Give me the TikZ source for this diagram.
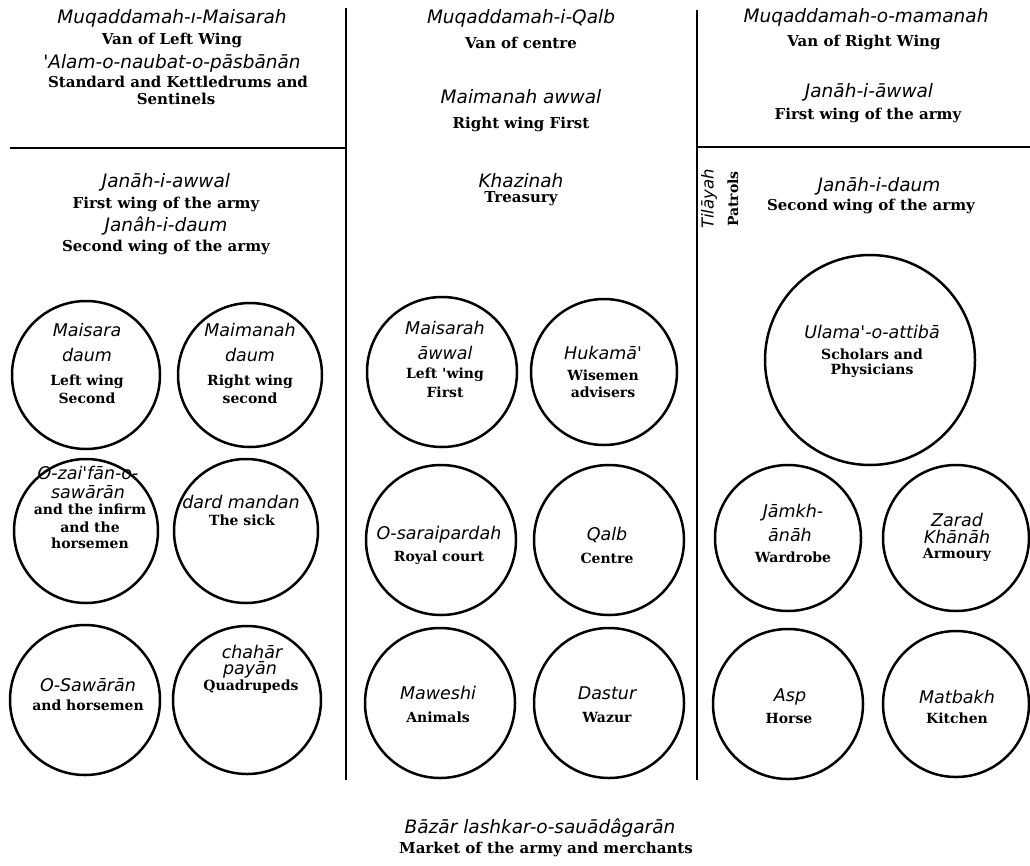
\documentclass[tikz,border=0pt]{standalone}
\usepackage{fontspec}
\newfontfamily\trfont{DejaVu Sans}
\newfontfamily\enfont{DejaVu Serif}
\tikzset{
 tr/.style={font=\trfont\itshape\fontsize{18.5}{20}\selectfont, inner sep=0pt},
 en/.style={font=\enfont\bfseries\fontsize{15}{17}\selectfont, inner sep=0pt},
 trc/.style={font=\trfont\itshape\fontsize{17.5}{19}\selectfont, inner sep=0pt},
 enc/.style={font=\enfont\bfseries\fontsize{14}{16}\selectfont, inner sep=0pt},
 trs/.style={font=\trfont\itshape\fontsize{16.5}{18}\selectfont, inner sep=0pt, rotate=90},
 ens/.style={font=\enfont\bfseries\fontsize{14}{16}\selectfont, inner sep=0pt, rotate=90},
 divider/.style={line width=2.8pt},
 ring/.style={circle, draw, line width=2.5pt, inner sep=0pt},
}
\begin{document}
\begin{tikzpicture}[x=1pt,y=-1pt]
\useasboundingbox (0,0) rectangle (1030,865);
% dividers
\coordinate (d1t) at (346,8); \coordinate (d1b) at (346,780);
\coordinate (d2t) at (697,10); \coordinate (d2b) at (697,780);
\coordinate (h1l) at (10,148); \coordinate (h1r) at (346,148);
\coordinate (h2l) at (697,147); \coordinate (h2r) at (1030,147);
\draw[divider] (d1t) -- (d1b);
\draw[divider] (d2t) -- (d2b);
\draw[divider] (h1l) -- (h1r);
\draw[divider] (h2l) -- (h2r);
% header left
\node[tr] (hl1) at (172,18) {Muqaddamah-ı-Maisarah};
\node[en] (hl2) at (172,40) {Van of Left Wing};
\node[tr] (hl3) at (172,63) {'Alam-o-naubat-o-pāsbānān};
\node[en] (hl4) at (178,82) {Standard and Kettledrums and};
\node[en] (hl5) at (176,99) {Sentinels};
% header middle
\node[tr] (hm1) at (521,18) {Muqaddamah-i-Qalb};
\node[en] (hm2) at (521,43) {Van of centre};
\node[tr] (hm3) at (521,97) {Maimanah awwal};
\node[en] (hm4) at (521,124) {Right wing First};
% header right
\node[tr] (hr1) at (866,17) {Muqaddamah-o-mamanah};
\node[en] (hr2) at (864,42) {Van of Right Wing};
\node[tr] (hr3) at (869,92) {Janāh-i-āwwal};
\node[en] (hr4) at (868,115) {First wing of the army};
% second band
\node[tr] (sl1) at (166,182) {Janāh-i-awwal};
\node[en] (sl2) at (166,204) {First wing of the army};
\node[tr] (sl3) at (166,226) {Janâh-i-daum};
\node[en] (sl4) at (166,247) {Second wing of the army};
\node[tr] (sm1) at (521,181) {Khazinah};
\node[en] (sm2) at (521,199) {Treasury};
\node[trs] (tl) at (709,199) {Tilāyah};
\node[ens] (pt) at (733,199) {Patrols};
\node[tr] (sr1) at (879,186) {Janāh-i-daum};
\node[en] (sr2) at (871,206) {Second wing of the army};
% left circles
\node[ring, minimum size=148pt] (A1) at (86,375) {};
\node[ring, minimum size=144pt] (A2) at (250,375) {};
\node[ring, minimum size=144pt] (A3) at (86,531) {};
\node[ring, minimum size=144pt] (A4) at (246,531) {};
\node[ring, minimum size=150pt] (A5) at (85,700) {};
\node[ring, minimum size=148pt] (A6) at (247,700) {};
\node[trc] (a11) at (87,330) {Maisara};
\node[trc] (a12) at (87,355) {daum};
\node[enc] (a13) at (87,382) {Left wing};
\node[enc] (a14) at (87,398) {Second};
\node[trc] (a21) at (250,330) {Maimanah};
\node[trc] (a22) at (250,355) {daum};
\node[enc] (a23) at (250,382) {Right wing};
\node[enc] (a24) at (250,398) {second};
\node[trc] (a31) at (88,473) {O-zai'fān-o-};
\node[trc] (a32) at (88,492) {sawārān};
\node[enc] (a33) at (90,509) {and the infirm};
\node[enc] (a34) at (90,527) {and the};
\node[enc] (a35) at (90,543) {horsemen};
\node[trc] (a41) at (241,502) {dard mandan};
\node[enc] (a42) at (242,520) {The sick};
\node[trc] (a51) at (88,685) {O-Sawārān};
\node[enc] (a52) at (88,705) {and horsemen};
\node[trc] (a61) at (252,652) {chahār};
\node[trc] (a62) at (250,670) {payān};
\node[enc] (a63) at (251,687) {Quadrupeds};
% middle circles
\node[ring, minimum size=150pt] (B1) at (442,372) {};
\node[ring, minimum size=146pt] (B2) at (604,372) {};
\node[ring, minimum size=150pt] (B3) at (441,540) {};
\node[ring, minimum size=150pt] (B4) at (609,540) {};
\node[ring, minimum size=150pt] (B5) at (440,703) {};
\node[ring, minimum size=150pt] (B6) at (609,703) {};
\node[trc] (b11) at (445,328) {Maisarah};
\node[trc] (b12) at (445,353) {āwwal};
\node[enc] (b13) at (445,375) {Left 'wing};
\node[enc] (b14) at (445,392) {First};
\node[trc] (b21) at (603,353) {Hukamā'};
\node[enc] (b22) at (603,375) {Wisemen};
\node[enc] (b23) at (603,392) {advisers};
\node[trc] (b31) at (439,535) {O-saraipardah};
\node[enc] (b32) at (439,558) {Royal court};
\node[trc] (b41) at (607,535) {Qalb};
\node[enc] (b42) at (607,558) {Centre};
\node[trc] (b51) at (438,693) {Maweshi};
\node[enc] (b52) at (438,717) {Animals};
\node[trc] (b61) at (607,693) {Dastur};
\node[enc] (b62) at (607,717) {Wazur};
% right circles
\node[ring, minimum size=210pt] (C1) at (870,360) {};
\node[ring, minimum size=146pt] (C2) at (788,538) {};
\node[ring, minimum size=146pt] (C3) at (956,538) {};
\node[ring, minimum size=150pt] (C4) at (788,704) {};
\node[ring, minimum size=146pt] (C5) at (956,704) {};
\node[trc] (c11) at (872,332) {Ulama'-o-attibā};
\node[enc] (c12) at (872,354) {Scholars and};
\node[enc] (c13) at (872,371) {Physicians};
\node[trc] (c21) at (793,513) {Jāmkh-};
\node[trc] (c22) at (790,535) {ānāh};
\node[enc] (c23) at (793,557) {Wardrobe};
\node[trc] (c31) at (957,520) {Zarad};
\node[trc] (c32) at (957,537) {Khānāh};
\node[enc] (c33) at (957,555) {Armoury};
\node[trc] (c41) at (790,697) {Asp};
\node[enc] (c42) at (789,718) {Horse};
\node[trc] (c51) at (957,697) {Matbakh};
\node[enc] (c52) at (957,718) {Kitchen};
% bottom
\node[tr] (bz1) at (540,828) {Bāzār lashkar-o-sauādâgarān};
\node[en] (bz2) at (546,849) {Market of the army and merchants};
\end{tikzpicture}
\end{document}
